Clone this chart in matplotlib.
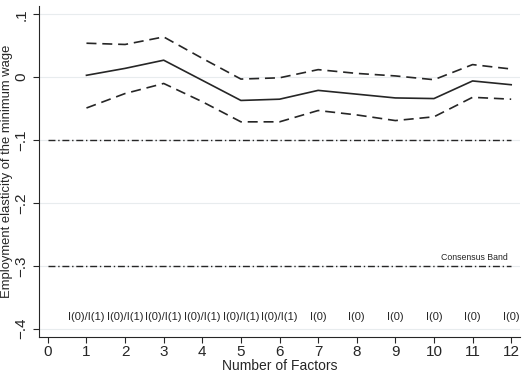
import numpy as np
import matplotlib.pyplot as plt

plt.rcParams.update({
    "font.family": "sans-serif",
    "font.sans-serif": ["Liberation Sans", "DejaVu Sans"],
})

factors = np.arange(1, 13)
estimate = [0.003, 0.014, 0.027, -0.005, -0.037, -0.035, -0.021, -0.027, -0.033, -0.034, -0.006, -0.012]
upper_ci = [0.054, 0.052, 0.064, 0.030, -0.003, -0.001, 0.012, 0.006, 0.002, -0.004, 0.020, 0.013]
lower_ci = [-0.049, -0.026, -0.010, -0.039, -0.071, -0.071, -0.053, -0.060, -0.069, -0.063, -0.032, -0.035]
order_labels = ["I(0)/I(1)"] * 6 + ["I(0)"] * 6
consensus = [-0.1, -0.3]

yticks = [-0.4, -0.3, -0.2, -0.1, 0.0, 0.1]
ytick_labels = ["\u2212.4", "\u2212.3", "\u2212.2", "\u2212.1", "0", ".1"]

line_col = "#262626"

fig = plt.figure(figsize=(5.31, 3.82), dpi=100)
ax = fig.add_axes([0.0734, 0.118, 0.906, 0.866])

for y in yticks:
    ax.axhline(y, color="#e8ecee", linewidth=0.8, zorder=0)

ax.plot(factors, estimate, color=line_col, linewidth=1.2)
ax.plot(factors, upper_ci, color=line_col, linewidth=1.2, linestyle=(0, (6, 3.5)))
ax.plot(factors, lower_ci, color=line_col, linewidth=1.2, linestyle=(0, (6, 3.5)))

for c in consensus:
    ax.plot([0, 12], [c, c], color=line_col, linewidth=1.0, linestyle=(0, (5, 2, 1, 2)))

ax.text(11.9, -0.294, "Consensus Band", fontsize=6.3, color=line_col, ha="right", va="bottom")

for x, lab in zip(factors, order_labels):
    ax.text(x, -0.381, lab, fontsize=8, color=line_col, ha="center", va="center")

ax.set_xlim(-0.23, 12.23)
ax.set_ylim(-0.413, 0.113)
ax.set_xticks(np.arange(0, 13))
ax.set_yticks(yticks)
ax.set_yticklabels(ytick_labels, rotation=90, va="center")
ax.tick_params(axis="both", labelsize=11, color=line_col, labelcolor=line_col, length=4, width=0.8)
ax.tick_params(axis="x", pad=2)
ax.set_xlabel("Number of Factors", fontsize=10, color=line_col, labelpad=0)
ax.set_ylabel("Employment elasticity of the minimum wage", fontsize=9.4, color=line_col)
ax.yaxis.set_label_coords(-0.054, 0.5)

for s in ["top", "right"]:
    ax.spines[s].set_visible(False)
for s in ["left", "bottom"]:
    ax.spines[s].set_color(line_col)
    ax.spines[s].set_linewidth(0.8)

fig.savefig("out.png", dpi=100, facecolor="white")
